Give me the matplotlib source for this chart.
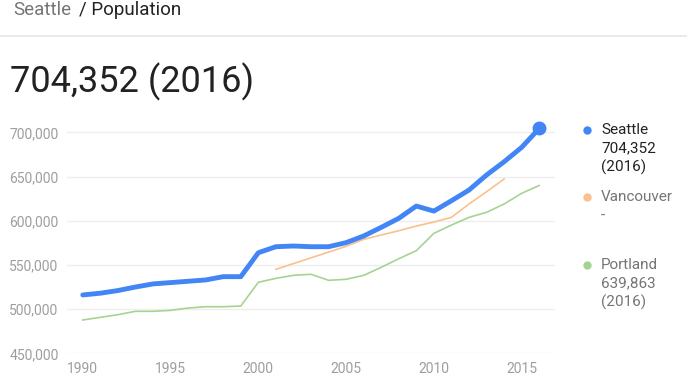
import matplotlib.pyplot as plt
from matplotlib.lines import Line2D

plt.rcParams['font.family'] = ['Roboto', 'DejaVu Sans']

years = list(range(1990, 2017))
seattle = [516000, 518000, 521000, 525000, 528500, 530000, 531500, 533000, 536700, 536700,
           563800, 570600, 571400, 570600, 570600, 575200, 582700, 592500, 602700, 616600,
           610900, 622600, 634700, 651700, 666700, 683000, 704352]
vancouver_years = list(range(2001, 2015))
vancouver = [545000, 551500, 558000, 564500, 571000, 579000, 583800, 588700, 594000,
             598500, 603800, 618900, 632800, 647200]
portland = [487700, 490700, 493700, 497500, 497500, 498600, 501200, 502700, 502700, 503500,
            530300, 534800, 538200, 539400, 532600, 533700, 538200, 547300, 557000, 566100,
            585700, 595100, 603800, 609500, 618900, 631000, 639863]

yticks = [450000, 500000, 550000, 600000, 650000, 700000]
xticks = [1990, 1995, 2000, 2005, 2010, 2015]

c_sea = '#4285f4'
c_van = '#fbc08d'
c_por = '#a6d393'
grey = '#9e9e9e'

fig = plt.figure(figsize=(6.87, 3.85), dpi=100)
ax = fig.add_axes([67 / 687, 1 - 353.3 / 385, (555 - 67) / 687, (353.3 - 123.5) / 385])

ax.plot(years, portland, color=c_por, lw=1.2, zorder=2)
ax.plot(vancouver_years, vancouver, color=c_van, lw=1.2, zorder=3)
ax.plot(years, seattle, color=c_sea, lw=3.5, solid_capstyle='round', zorder=4)
ax.plot(years[-1], seattle[-1], 'o', color=c_sea, ms=9, zorder=5, clip_on=False)

ax.set_ylim(450000, 710000)
ax.set_xlim(1989.1, 2016.9)
ax.set_yticks(yticks)
ax.set_yticklabels([f'{v:,}' for v in yticks])
ax.set_xticks(xticks)
ax.tick_params(length=0, labelsize=10, labelcolor=grey, pad=6)
ax.grid(axis='y', color='#eeeeee', lw=1)
ax.set_axisbelow(True)
for s in ax.spines.values():
    s.set_visible(False)

# header
fig.text(13 / 687, 1 - 10 / 385, 'Seattle', color='#757575', fontsize=13.5, va='center')
fig.text(79 / 687, 1 - 10 / 385, '/ Population', color='#222222', fontsize=13.5, va='center')
fig.add_artist(Line2D([0, 1], [1 - 36 / 385] * 2, color='#e6e6e6', lw=1.2))
fig.text(10 / 687, 1 - 82 / 385, '704,352 (2016)', color='#222222', fontsize=26, va='center')

# legend
legend = [
    (130, c_sea, ['Seattle', '704,352', '(2016)'], '#222222'),
    (197, c_van, ['Vancouver', '-'], '#757575'),
    (265, c_por, ['Portland', '639,863', '(2016)'], '#757575'),
]
for y, c, lines, tc in legend:
    fig.add_artist(Line2D([587 / 687], [1 - y / 385], marker='o', color=c, ms=5, lw=0))
    for i, t in enumerate(lines):
        fig.text(601 / 687, 1 - (y + i * 18.5) / 385, t, color=tc, fontsize=11, va='center')

fig.savefig('out.png', dpi=100)
